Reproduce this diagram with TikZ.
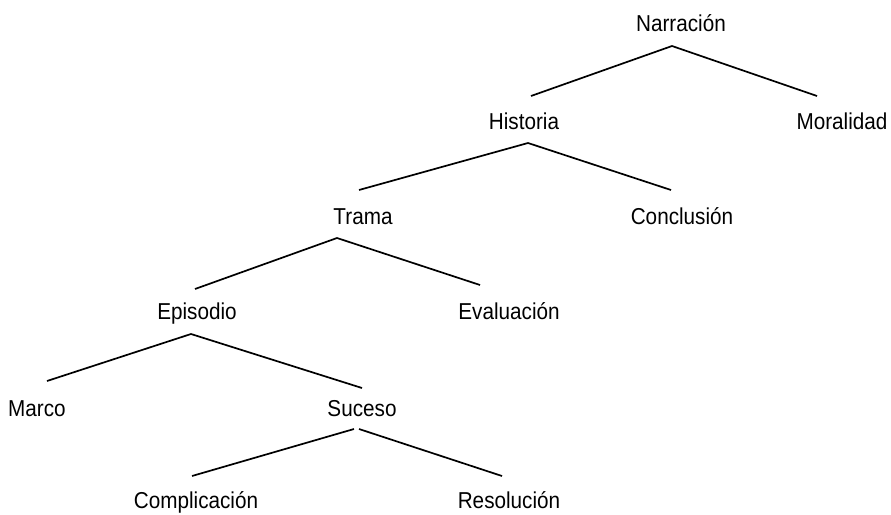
\documentclass[tikz,border=0pt]{standalone}
\usepackage{fontspec}
\setmainfont[FakeStretch=0.9]{Liberation Sans}
\begin{document}
\begin{tikzpicture}[x=1pt,y=-1pt,
  lbl/.style={font=\fontsize{23}{23}\selectfont, inner sep=0pt, anchor=base},
  branch/.style={line width=1.7pt, line cap=butt}]
\useasboundingbox (0,0) rectangle (891,514);

% labels (placed on their baselines)
\node[lbl] (narr) at (681,31)  {Narración};
\node[lbl] (hist) at (524,129) {Historia};
\node[lbl] (mora) at (842,129) {Moralidad};
\node[lbl] (tram) at (363,224) {Trama};
\node[lbl] (conc) at (682,224) {Conclusión};
\node[lbl] (epis) at (197,319) {Episodio};
\node[lbl] (eval) at (509,319) {Evaluación};
\node[lbl] (marc) at (37,416)  {Marco};
\node[lbl] (suce) at (362,416) {Suceso};
\node[lbl] (comp) at (196,508) {Complicación};
\node[lbl] (reso) at (509,508) {Resolución};

% branch points below each parent and ends above each child
\coordinate (narr-s) at (672,46);
\coordinate (hist-n) at (531,96);
\coordinate (mora-n) at (817,96);
\coordinate (hist-s) at (528,143);
\coordinate (tram-n) at (359,190);
\coordinate (conc-n) at (671,190);
\coordinate (tram-s) at (337,238);
\coordinate (epis-n) at (195,289);
\coordinate (eval-n) at (480,285);
\coordinate (epis-s) at (191,334);
\coordinate (marc-n) at (47,381);
\coordinate (suce-n) at (362,388);
\coordinate (suce-sl) at (354,429);
\coordinate (suce-sr) at (359,429);
\coordinate (comp-n) at (192,476);
\coordinate (reso-n) at (502,476);

\draw[branch] (hist-n) -- (narr-s) -- (mora-n);
\draw[branch] (tram-n) -- (hist-s) -- (conc-n);
\draw[branch] (epis-n) -- (tram-s) -- (eval-n);
\draw[branch] (marc-n) -- (epis-s) -- (suce-n);
\draw[branch] (comp-n) -- (suce-sl);
\draw[branch] (suce-sr) -- (reso-n);
\end{tikzpicture}
\end{document}
